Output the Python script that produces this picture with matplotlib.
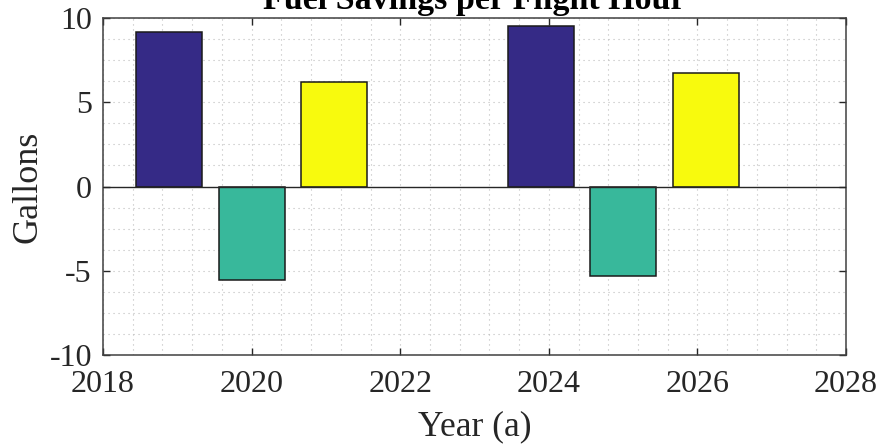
import numpy as np
import matplotlib
matplotlib.use('Agg')
import matplotlib.pyplot as plt
from matplotlib.ticker import MultipleLocator

## dados: dois grupos de anos, três séries cada ##
anos = [2020, 2025]
serie_a = [9.2, 9.55]
serie_b = [-5.55, -5.35]
serie_c = [6.2, 6.75]
series = [serie_a, serie_b, serie_c]
cores = ['#352a86', '#38b89b', '#f8fa0d']

titulo = 'Fuel Savings per Flight Hour'
rotulo_x = 'Year (a)'
rotulo_y = 'Gallons'

plt.rcParams['font.family'] = ['Liberation Serif', 'DejaVu Serif']
plt.rcParams['axes.unicode_minus'] = False

fig = plt.figure(figsize=(8.79, 4.44), dpi=100)
ax = fig.add_axes([0.1172, 0.2011, 0.9625 - 0.1172, 0.9588 - 0.2011])

## largura tipo bar agrupado do MATLAB ##
n = len(series)
espaco = 5 * min(0.8, n / (n + 1.5)) / n
largura = 0.8 * espaco
for i, (vals, cor) in enumerate(zip(series, cores)):
    desloc = (i - (n - 1) / 2) * espaco
    ax.bar(np.array(anos) + desloc, vals, width=largura, color=cor,
           edgecolor='#1a1a1a', linewidth=1.1, zorder=3)

ax.axhline(0, color='#262626', linewidth=1.0, zorder=4)

ax.set_xlim(2018, 2028)
ax.set_ylim(-10, 10)
ax.xaxis.set_major_locator(MultipleLocator(2))
ax.yaxis.set_major_locator(MultipleLocator(5))
ax.xaxis.set_minor_locator(MultipleLocator(0.4))
ax.yaxis.set_minor_locator(MultipleLocator(1.25))
ax.grid(which='both', linestyle=(0, (1, 3.5)), color='#bdbdbd', linewidth=0.8, zorder=0)

ax.tick_params(which='major', direction='in', length=5, width=1, color='#262626',
               top=True, right=True, labelsize=23, labelcolor='#262626')
ax.tick_params(axis='x', which='major', pad=11)
ax.tick_params(axis='y', which='major', pad=8)
ax.tick_params(which='minor', length=0)
for s in ax.spines.values():
    s.set_color('#404040')
    s.set_linewidth(1.1)

ax.set_title(titulo, fontsize=24.5, fontweight='bold', pad=6.7)
ax.set_xlabel(rotulo_x, fontsize=25.5, color='#262626', labelpad=8.5)
ax.set_ylabel(rotulo_y, fontsize=26, color='#262626', labelpad=3.5)

fig.savefig('out.png', dpi=100)
